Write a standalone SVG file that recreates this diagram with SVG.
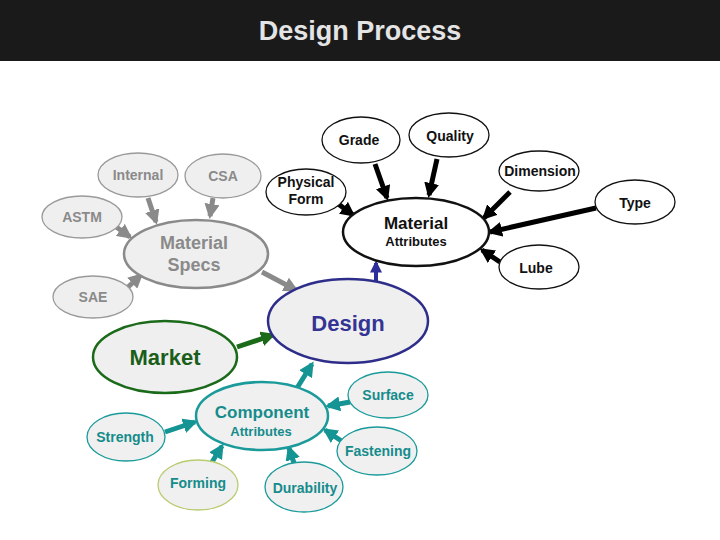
<svg xmlns="http://www.w3.org/2000/svg" width="720" height="540" viewBox="0 0 720 540">
<defs>
<style>
text{font-family:"Liberation Sans",Arial,sans-serif;font-weight:bold;text-anchor:middle}
.g ellipse{fill:#efefef;stroke:#9a9a9a;stroke-width:1.3}
.g text{fill:#8a8a8a;font-size:14px}
.k ellipse{fill:#fff;stroke:#111;stroke-width:1.3}
.k text{fill:#111;font-size:14px}
.t ellipse{fill:#f0f0f0;stroke:#1a9a9a;stroke-width:1.3}
.t text{fill:#158c8c;font-size:14px}
.cg{stroke:#8a8a8a;stroke-width:5;fill:none}
.ck{stroke:#000;stroke-width:5;fill:none}
.ct{stroke:#159494;stroke-width:5;fill:none}
</style>
<marker id="ag" viewBox="0 0 10 10" refX="8" refY="5" markerWidth="3" markerHeight="3" orient="auto"><path d="M0,0L10,5L0,10z" fill="#8a8a8a"/></marker>
<marker id="ak" viewBox="0 0 10 10" refX="8" refY="5" markerWidth="3" markerHeight="3" orient="auto"><path d="M0,0L10,5L0,10z" fill="#000"/></marker>
<marker id="at" viewBox="0 0 10 10" refX="8" refY="5" markerWidth="3" markerHeight="3" orient="auto"><path d="M0,0L10,5L0,10z" fill="#159494"/></marker>
<marker id="ab" viewBox="0 0 10 10" refX="8" refY="5" markerWidth="3" markerHeight="3" orient="auto"><path d="M0,0L10,5L0,10z" fill="#2e2e9a"/></marker>
<marker id="am" viewBox="0 0 10 10" refX="8" refY="5" markerWidth="3" markerHeight="3" orient="auto"><path d="M0,0L10,5L0,10z" fill="#1a6a1a"/></marker>
</defs>
<rect x="0" y="0" width="720" height="540" fill="#fff"/>
<rect x="0" y="0" width="720" height="61" fill="#1a1a1a"/>
<text x="360" y="40" style="font-size:27px;fill:#e4e4e4">Design Process</text>

<g id="connectors">
<line class="cg" x1="148" y1="198" x2="156" y2="222" marker-end="url(#ag)"/>
<line class="cg" x1="213" y1="198" x2="210" y2="216" marker-end="url(#ag)"/>
<line class="cg" x1="115" y1="226" x2="130" y2="237" marker-end="url(#ag)"/>
<line class="cg" x1="127" y1="288" x2="141" y2="275" marker-end="url(#ag)"/>
<line class="cg" x1="262" y1="272" x2="296" y2="290" marker-end="url(#ag)"/>
<line class="ck" x1="337" y1="203" x2="353" y2="215" marker-end="url(#ak)"/>
<line class="ck" x1="375" y1="164" x2="387" y2="198" marker-end="url(#ak)"/>
<line class="ck" x1="437" y1="159" x2="429" y2="195" marker-end="url(#ak)"/>
<line class="ck" x1="510" y1="192" x2="484" y2="218" marker-end="url(#ak)"/>
<line class="ck" x1="596" y1="208" x2="490" y2="232" marker-end="url(#ak)"/>
<line class="ck" x1="500" y1="262" x2="482" y2="250" marker-end="url(#ak)"/>
<line x1="376" y1="282" x2="376" y2="263" stroke="#2e2e9a" stroke-width="4" marker-end="url(#ab)"/>
<line x1="237" y1="347" x2="273" y2="335" stroke="#1a6a1a" stroke-width="5" marker-end="url(#am)"/>
<line class="ct" x1="297" y1="388" x2="312" y2="364" marker-end="url(#at)"/>
<line class="ct" x1="350" y1="402" x2="328" y2="406" marker-end="url(#at)"/>
<line class="ct" x1="165" y1="432" x2="195" y2="422" marker-end="url(#at)"/>
<line class="ct" x1="212" y1="462" x2="222" y2="446" marker-end="url(#at)"/>
<line class="ct" x1="294" y1="463" x2="289" y2="448" marker-end="url(#at)"/>
<line class="ct" x1="343" y1="442" x2="325" y2="430" marker-end="url(#at)"/>
</g>

<g id="internal" class="g"><ellipse cx="138" cy="175" rx="40" ry="22"/><text x="138" y="180">Internal</text></g>
<g id="csa" class="g"><ellipse cx="223" cy="176" rx="38" ry="22"/><text x="223" y="181">CSA</text></g>
<g id="astm" class="g"><ellipse cx="82" cy="217" rx="40" ry="21"/><text x="82" y="222">ASTM</text></g>
<g id="sae" class="g"><ellipse cx="93" cy="297" rx="40" ry="21"/><text x="93" y="302">SAE</text></g>
<g id="material-specs" class="g"><ellipse cx="196" cy="254" rx="72" ry="34" style="stroke:#8a8a8a;stroke-width:2.5"/><text x="194" y="249" style="font-size:18px">Material</text><text x="194" y="271" style="font-size:18px">Specs</text></g>

<g id="physical-form" class="k"><ellipse cx="306" cy="192" rx="40" ry="23"/><text x="306" y="187">Physical</text><text x="306" y="204">Form</text></g>
<g id="grade" class="k"><ellipse cx="361" cy="140" rx="39" ry="23"/><text x="359" y="145">Grade</text></g>
<g id="quality" class="k"><ellipse cx="449" cy="135" rx="40" ry="22"/><text x="450" y="141">Quality</text></g>
<g id="dimension" class="k"><ellipse cx="539" cy="171" rx="40" ry="20"/><text x="540" y="176">Dimension</text></g>
<g id="type" class="k"><ellipse cx="635" cy="202" rx="40" ry="22"/><text x="635" y="208">Type</text></g>
<g id="lube" class="k"><ellipse cx="539" cy="267" rx="40" ry="22"/><text x="536" y="273">Lube</text></g>
<g id="material-attributes" class="k"><ellipse cx="416" cy="232" rx="73" ry="34" style="stroke-width:2.5"/><text x="416" y="229" style="font-size:17px">Material</text><text x="416" y="246" style="font-size:13px">Attributes</text></g>

<g id="design"><ellipse cx="348" cy="321" rx="80" ry="42" fill="#efefef" stroke="#2e2e8a" stroke-width="2.5"/><text x="348" y="331" style="font-size:22px;fill:#343494">Design</text></g>
<g id="market"><ellipse cx="165" cy="357" rx="72" ry="36" fill="#efefef" stroke="#1a6a1a" stroke-width="2.5"/><text x="165" y="365" style="font-size:22px;fill:#1a5e1a">Market</text></g>
<g id="component-attributes" class="t"><ellipse cx="262" cy="416" rx="66" ry="34" style="stroke-width:2.5"/><text x="262" y="418" style="font-size:17px">Component</text><text x="261" y="436" style="font-size:13px">Attributes</text></g>
<g id="surface" class="t"><ellipse cx="388" cy="395" rx="40" ry="23"/><text x="388" y="400">Surface</text></g>
<g id="strength" class="t"><ellipse cx="126" cy="437" rx="39" ry="24"/><text x="125" y="442">Strength</text></g>
<g id="fastening" class="t"><ellipse cx="377" cy="451" rx="40" ry="24"/><text x="378" y="456">Fastening</text></g>
<g id="forming" class="t"><ellipse cx="198" cy="485" rx="40" ry="25" style="stroke:#b8cc70"/><text x="198" y="488">Forming</text></g>
<g id="durability" class="t"><ellipse cx="304" cy="487" rx="39" ry="25"/><text x="305" y="493">Durability</text></g>
</svg>
